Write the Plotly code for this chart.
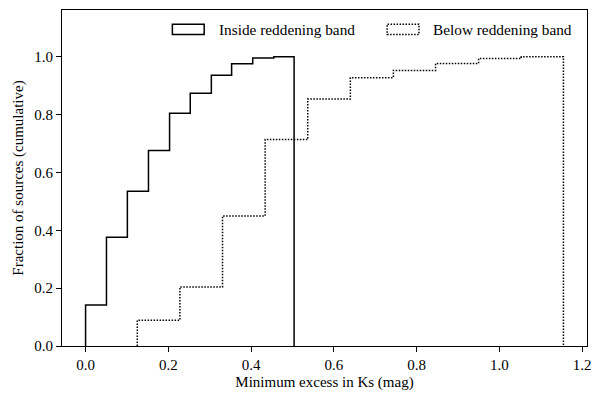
import plotly.graph_objects as go

# Inside reddening band: bin edges and cumulative fractions
inside_edges = [0.000, 0.0505, 0.101, 0.152, 0.203, 0.253, 0.304, 0.353, 0.404, 0.455, 0.504]
inside_vals = [0.142, 0.376, 0.535, 0.676, 0.805, 0.874, 0.936, 0.976, 0.996, 1.000]

# Below reddening band
below_edges = [0.125, 0.228, 0.331, 0.434, 0.537, 0.640, 0.744, 0.846, 0.950, 1.053, 1.155]
below_vals = [0.089, 0.204, 0.450, 0.714, 0.854, 0.928, 0.953, 0.977, 0.994, 1.000]

x_ticks = [0.0, 0.2, 0.4, 0.6, 0.8, 1.0, 1.2]
y_ticks = [0.0, 0.2, 0.4, 0.6, 0.8, 1.0]

labels = ["Inside reddening band", "Below reddening band"]

FONT = "Liberation Serif"
DOT = "1.5px,1.5px"


def step_xy(edges, vals):
    xs = [edges[0]] + edges[:-1] + [edges[-1], edges[-1]]
    ys = [0] + vals + [vals[-1], 0]
    return xs, ys


fig = go.Figure()
xs, ys = step_xy(inside_edges, inside_vals)
fig.add_trace(go.Scatter(x=xs, y=ys, mode="lines", line=dict(color="black", width=1.5, shape="hv"),
                         name=labels[0], showlegend=False))
xs, ys = step_xy(below_edges, below_vals)
fig.add_trace(go.Scatter(x=xs, y=ys, mode="lines", line=dict(color="black", width=1.5, shape="hv", dash=DOT),
                         name=labels[1], showlegend=False))

# manual legend (paper coords)
W, H = 600, 397
ml, mr, mt, mb = 62, 10, 9, 45
pw, ph = W - ml - mr, H - mt - mb


def px(x):
    return (x - ml) / pw


def py(y):
    return 1 - (y - mt) / ph


legend_items = [
    (173, 205, 218, "solid"),
    (389, 421, 433, DOT),
]
for (x0, x1, tx, dash), lab in zip(legend_items, labels):
    fig.add_shape(type="rect", xref="paper", yref="paper", x0=px(x0), x1=px(x1), y0=py(34), y1=py(23.5),
                  line=dict(color="black", width=1.5, dash=dash))
    fig.add_annotation(xref="paper", yref="paper", x=px(tx), y=py(29), text=lab, showarrow=False,
                       xanchor="left", yanchor="middle", font=dict(family=FONT, size=15.3, color="black"))

fig.update_layout(
    width=W, height=H,
    margin=dict(l=ml, r=mr, t=mt, b=mb),
    paper_bgcolor="white", plot_bgcolor="white",
    font=dict(family=FONT, size=15, color="black"),
    xaxis=dict(range=[-0.057, 1.212], tickvals=x_ticks, ticktext=[f"{v:.1f}" for v in x_ticks],
               showgrid=False, zeroline=False, showline=True, linecolor="black", linewidth=1.2, mirror=True,
               ticks="outside", ticklen=5, tickwidth=1.2, tickcolor="black", tickfont=dict(size=15),
               title=dict(text="Minimum excess in Ks (mag)", font=dict(size=15), standoff=4)),
    yaxis=dict(range=[0, 1.162], tickvals=y_ticks, ticktext=[f"{v:.1f}" for v in y_ticks],
               showgrid=False, zeroline=False, showline=True, linecolor="black", linewidth=1.2, mirror=True,
               ticks="outside", ticklen=5, tickwidth=1.2, tickcolor="black", tickfont=dict(size=15),
               title=dict(text="Fraction of sources (cumulative)", font=dict(size=15), standoff=6)),
)

fig.write_html("out.html")
